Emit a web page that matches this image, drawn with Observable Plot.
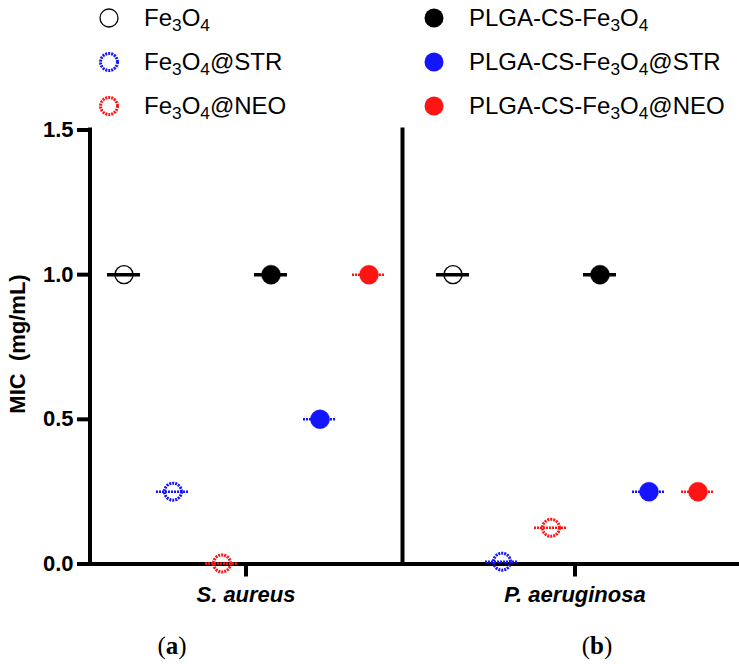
<!DOCTYPE html>
<html>
<head>
<meta charset="utf-8">
<script src="https://cdn.jsdelivr.net/npm/d3@7"></script>
<script src="https://cdn.jsdelivr.net/npm/@observablehq/plot@0.6"></script>
<style>
  html, body { margin: 0; padding: 0; background: white; }
  #wrap { width: 739px; font-family: "Liberation Sans", Arial, sans-serif; color: black; }
  #legend { position: relative; height: 118px; }
  .item { position: absolute; height: 30px; display: flex; align-items: center; font-size: 24px; white-space: nowrap; }
  .item svg { position: absolute; }
  .item span { position: absolute; }
  sub { font-size: 0.72em; vertical-align: -0.3em; line-height: 0; }
  #caption { position: relative; height: 55px; font-family: "Liberation Serif", "DejaVu Serif", serif; font-size: 25px; }
  #caption div { position: absolute; top: 18px; transform: translateX(-50%); }
  #chart svg { display: block; }
  #chart g[aria-label$="axis tick"], #chart g[aria-label$="axis tick"] * { stroke-width: 4px !important; stroke: black !important; }
</style>
</head>
<body>
<div id="wrap">
  <div id="legend"></div>
  <div id="chart"></div>
  <div id="caption"></div>
</div>
<script>
// ---- data ----
const organisms = ["S. aureus", "P. aeruginosa"];
const series = ["Fe3O4", "Fe3O4@STR", "Fe3O4@NEO", "PLGA-CS-Fe3O4", "PLGA-CS-Fe3O4@STR", "PLGA-CS-Fe3O4@NEO"];
const seriesColors = ["#000000", "#1414ff", "#ff1414", "#000000", "#1414ff", "#ff1414"];
const seriesFilled = [false, false, false, true, true, true];
const micSAureus = [1.0, 0.25, 0.002, 1.0, 0.5, 1.0];
const micPAeruginosa = [1.0, 0.008, 0.125, 1.0, 0.25, 0.25];
const yTicks = [0, 0.5, 1.0, 1.5];
const yLabel = "MIC\u00a0 (mg/mL)";
const panelLetters = ["a", "b"];

const micByOrganism = [micSAureus, micPAeruginosa];
const rows = organisms.flatMap((org, i) =>
  series.map((s, j) => ({org, series: s, mic: micByOrganism[i][j], filled: seriesFilled[j], black: seriesColors[j] === "#000000"}))
);

// ---- legend ----
const legend = document.getElementById("legend");
const rowY = [18, 62, 106];
const colCircleX = [109, 434];
const colTextX = [144, 469];
series.forEach((s, j) => {
  const col = seriesFilled[j] ? 1 : 0;
  const row = j % 3;
  const item = document.createElement("div");
  item.className = "item";
  item.style.top = (rowY[row] - 15) + "px";
  item.style.left = "0px";
  const c = seriesColors[j];
  const isBlack = c === "#000000";
  const r = seriesFilled[j] ? 9.5 : (isBlack ? 9 : 8.5);
  const sw = seriesFilled[j] ? 0 : (isBlack ? 1.3 : 3);
  const dash = (!seriesFilled[j] && !isBlack) ? 'stroke-dasharray="2 1"' : "";
  item.innerHTML =
    `<svg width="26" height="26" style="left:${colCircleX[col] - 13}px;top:2px">` +
    `<circle cx="13" cy="13" r="${r}" fill="${seriesFilled[j] ? c : "none"}" stroke="${c}" stroke-width="${sw}" ${dash}/></svg>` +
    `<span style="left:${colTextX[col]}px">${s.replace("Fe3O4", "Fe<sub>3</sub>O<sub>4</sub>")}</span>`;
  legend.appendChild(item);
});

// ---- chart ----
const plot = Plot.plot({
  width: 739,
  height: 496,
  marginLeft: 80,
  marginRight: 0,
  marginTop: 11.5,
  marginBottom: 50.5,
  style: {fontFamily: "'Liberation Sans', Arial, sans-serif", color: "black", background: "white", overflow: "visible"},
  fx: {domain: organisms, padding: 0},
  x: {domain: series, paddingInner: 0.33, paddingOuter: 0.52, axis: null},
  y: {domain: [0, 1.5]},
  color: {domain: series, range: seriesColors},
  marks: [
    Plot.ruleY([0], {stroke: "black", strokeWidth: 4}),
    Plot.ruleX([{org: organisms[0], series: series[0]}], {fx: "org", x: "series", dx: -34, stroke: "black", strokeWidth: 4, strokeLinecap: "square"}),
    Plot.ruleX([{org: organisms[0], series: series[5]}], {fx: "org", x: "series", dx: 33.5, stroke: "black", strokeWidth: 4, strokeLinecap: "square"}),
    Plot.axisY({ticks: yTicks, tickFormat: d => d.toFixed(1), tickSize: 12, tickPadding: 4, dx: 8, stroke: "black", strokeWidth: 4, fontSize: 22, fontWeight: "bold", label: null}),
    Plot.text([{org: organisms[0], t: yLabel}], {fx: "org", text: "t", frameAnchor: "left", textAnchor: "middle", rotate: -90, dx: -64, dy: -3, fontSize: 22, fontWeight: "bold"}),
    Plot.axisFx({anchor: "bottom", tickSize: 13, tickPadding: 9, stroke: "black", strokeWidth: 4, fontSize: 22, fontWeight: "bold", fontStyle: "italic", label: null}),
    Plot.tickY(rows.filter(d => d.black), {fx: "org", x: "series", y: "mic", stroke: "series", strokeWidth: 3.5}),
    Plot.tickY(rows.filter(d => !d.black), {fx: "org", x: "series", y: "mic", stroke: "series", strokeWidth: 2.5, strokeDasharray: "2 1"}),
    Plot.dot(rows.filter(d => !d.filled && d.black), {fx: "org", x: "series", y: "mic", r: 9, fill: "none", stroke: "series", strokeWidth: 1.4}),
    Plot.dot(rows.filter(d => !d.filled && !d.black), {fx: "org", x: "series", y: "mic", r: 8.5, fill: "none", stroke: "series", strokeWidth: 3, strokeDasharray: "2 1"}),
    Plot.dot(rows.filter(d => d.filled), {fx: "org", x: "series", y: "mic", r: 9.5, fill: "series", stroke: "series", strokeWidth: 0.5})
  ]
});
document.getElementById("chart").appendChild(plot);

// ---- caption ----
const caption = document.getElementById("caption");
const capX = [172, 597];
panelLetters.forEach((l, i) => {
  const d = document.createElement("div");
  d.style.left = capX[i] + "px";
  d.innerHTML = `(<b>${l}</b>)`;
  caption.appendChild(d);
});
</script>
</body>
</html>
